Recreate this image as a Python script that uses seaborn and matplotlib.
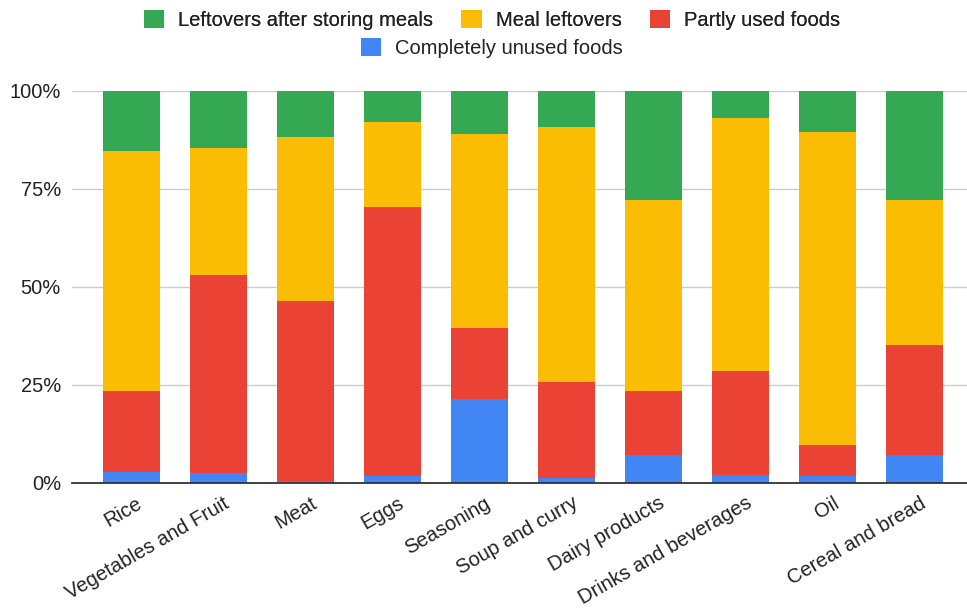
import numpy as np
import pandas as pd
import matplotlib
matplotlib.use("Agg")
import matplotlib.pyplot as plt
import matplotlib.transforms as mtransforms
import seaborn as sns
from matplotlib.patches import Patch
from matplotlib.ticker import FuncFormatter

categories = ["Rice", "Vegetables and Fruit", "Meat", "Eggs", "Seasoning",
              "Soup and curry", "Dairy products", "Drinks and beverages",
              "Oil", "Cereal and bread"]
unused = [2.8, 2.3, 0.3, 1.7, 21.3, 1.2, 6.9, 2.0, 1.7, 6.9]
partly_used = [20.6, 50.6, 46.0, 68.6, 18.2, 24.5, 16.5, 26.4, 8.0, 28.2]
meal_leftovers = [61.2, 32.5, 41.9, 21.9, 49.5, 65.1, 48.7, 64.6, 79.7, 37.0]
stored_leftovers = [15.4, 14.6, 11.8, 7.8, 11.0, 9.2, 27.9, 7.0, 10.6, 27.9]

series_names = ["Completely unused foods", "Partly used foods",
                "Meal leftovers", "Leftovers after storing meals"]
colors = ["#4285F4", "#EA4335", "#FBBC04", "#34A853"]

df = pd.DataFrame({"category": categories,
                   series_names[0]: unused,
                   series_names[1]: partly_used,
                   series_names[2]: meal_leftovers,
                   series_names[3]: stored_leftovers})
vals = df[series_names].to_numpy(dtype=float)
shares = vals / vals.sum(axis=1, keepdims=True) * 100
bottoms = np.hstack([np.zeros((len(df), 1)), np.cumsum(shares, axis=1)[:, :-1]])

sns.set_theme(style="white")
plt.rcParams["font.family"] = ["Liberation Sans", "DejaVu Sans"]
FS = 14.5
XLIM = (-0.68, 9.6)

fig = plt.figure(figsize=(9.67, 6.11), dpi=100)
ax = fig.add_axes([72 / 967, 1 - 482.5 / 611, (967 - 72) / 967, (482.5 - 91) / 611])

# 100% stacked bars, one seaborn call per series
for i, name in enumerate(series_names):
    sns.barplot(x=df["category"], y=shares[:, i], bottom=bottoms[:, i],
                color=colors[i], width=0.655, saturation=1, ax=ax,
                linewidth=0, zorder=2)

ax.set_ylim(0, 100)
ax.set_xlim(*XLIM)
ax.set_yticks([0, 25, 50, 75, 100])
ax.yaxis.set_major_formatter(FuncFormatter(lambda v, _: f"{int(v)}%"))
ax.grid(axis="y", color="#cccccc", linewidth=1, zorder=0)
ax.set_axisbelow(True)
for s in ["top", "right", "left"]:
    ax.spines[s].set_visible(False)
ax.spines["bottom"].set_color("#333333")
ax.spines["bottom"].set_linewidth(1.3)
ax.spines["bottom"].set_zorder(5)
ax.tick_params(axis="y", length=0, labelsize=FS, colors="#222222", pad=8)
ax.tick_params(axis="x", length=0, labelsize=FS, colors="#222222", pad=8)
shift = mtransforms.ScaledTranslation(5 / 100, 0, fig.dpi_scale_trans)
for lab in ax.get_xticklabels():
    lab.set_rotation(30)
    lab.set_ha("right")
    lab.set_rotation_mode("anchor")
    lab.set_transform(lab.get_transform() + shift)
ax.set_xlabel("")
ax.set_ylabel("")

# legend: three entries on the first row, the fourth centred below
handles = [Patch(facecolor=c, edgecolor="none") for c in colors]
leg_kw = dict(frameon=False, fontsize=FS, handlelength=1.0, handleheight=1.0,
              handletextpad=0.7, columnspacing=1.4, labelcolor="#222222")
cx = 492 / 967
leg1 = fig.legend(handles[::-1][:3], series_names[::-1][:3], loc="center",
                  bbox_to_anchor=(cx, 1 - 20 / 611), ncol=3, **leg_kw)
leg2 = fig.legend([handles[0]], [series_names[0]], loc="center",
                  bbox_to_anchor=(cx, 1 - 48 / 611), ncol=1, **leg_kw)
fig.add_artist(leg1)

fig.savefig("out.png", dpi=100)
